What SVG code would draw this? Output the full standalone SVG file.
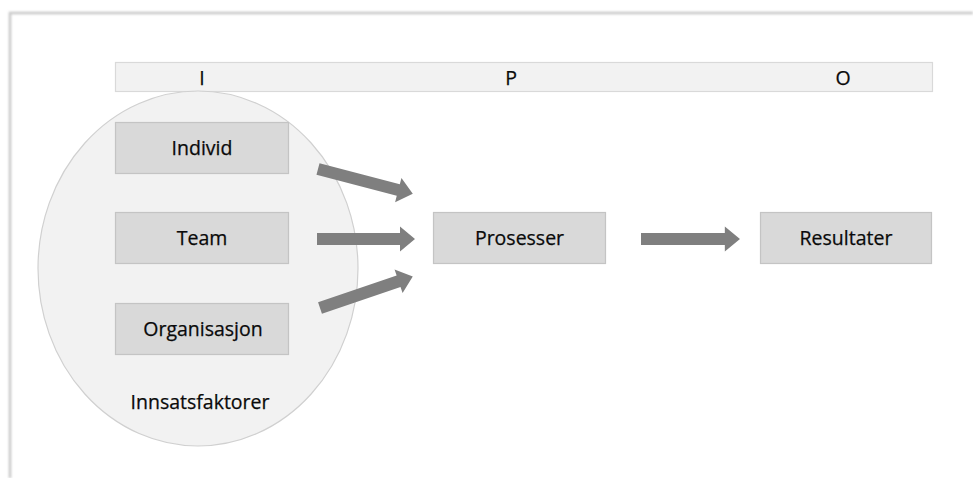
<svg xmlns="http://www.w3.org/2000/svg" width="973" height="478" viewBox="0 0 973 478">
  <defs>
    <style>
      .box { fill: #d9d9d9; stroke: #c4c4c4; stroke-width: 1.2; }
      .lbl { font-family: "Open Sans", "Liberation Sans", sans-serif; font-size: 19.5px; fill: #0a0a0a; stroke: #0a0a0a; stroke-width: 0.25; text-anchor: middle; }
      .arrow { fill: #7f7f7f; }
    </style>
    <filter id="soft" x="-5%" y="-5%" width="110%" height="110%">
      <feGaussianBlur stdDeviation="1"/>
    </filter>
    <!-- block arrow pointing right, origin at tail centre, tip at x=98 -->
    <path id="blockArrow" d="M0,-6 H83 V-12.5 L98,0 L83,12.5 V6 H0 Z"/>
  </defs>

  <rect width="973" height="478" fill="#ffffff"/>

  <!-- page frame edge -->
  <path d="M10,478 V13 H973" fill="none" stroke="#c8c8c8" stroke-width="2.5" filter="url(#soft)"/>

  <!-- I / P / O header -->
  <g id="header">
    <rect x="115.5" y="62.5" width="817" height="29" fill="#f2f2f2" stroke="#d9d9d9" stroke-width="1.2"/>
    <text class="lbl" x="202" y="85">I</text>
    <text class="lbl" x="511" y="85">P</text>
    <text class="lbl" x="843" y="85">O</text>
  </g>

  <!-- input factors -->
  <g id="innsatsfaktorer">
    <ellipse cx="198" cy="268.5" rx="160" ry="177.5" fill="#f2f2f2" stroke="#d0d0d0" stroke-width="1.2"/>
    <text class="lbl" x="200" y="409">Innsatsfaktorer</text>
  </g>

  <g id="individ">
    <rect class="box" x="115.5" y="122.5" width="173" height="51"/>
    <text class="lbl" x="202" y="155">Individ</text>
  </g>

  <g id="team">
    <rect class="box" x="115.5" y="212.5" width="173" height="51"/>
    <text class="lbl" x="202" y="245">Team</text>
  </g>

  <g id="organisasjon">
    <rect class="box" x="115.5" y="303.5" width="173" height="51"/>
    <text class="lbl" x="203" y="336">Organisasjon</text>
  </g>

  <g id="prosesser">
    <rect class="box" x="433.5" y="212.5" width="172" height="51"/>
    <text class="lbl" x="519.5" y="245">Prosesser</text>
  </g>

  <g id="resultater">
    <rect class="box" x="760.5" y="212.5" width="171" height="51"/>
    <text class="lbl" x="846" y="245">Resultater</text>
  </g>

  <!-- connectors -->
  <g id="connectors" class="arrow">
    <use href="#blockArrow" transform="translate(318,169) rotate(14.7)"/>
    <use href="#blockArrow" transform="translate(317,239)"/>
    <use href="#blockArrow" transform="translate(320,308) rotate(-18.8)"/>
    <use href="#blockArrow" transform="translate(641,239) scale(1.01,1)"/>
  </g>
</svg>
